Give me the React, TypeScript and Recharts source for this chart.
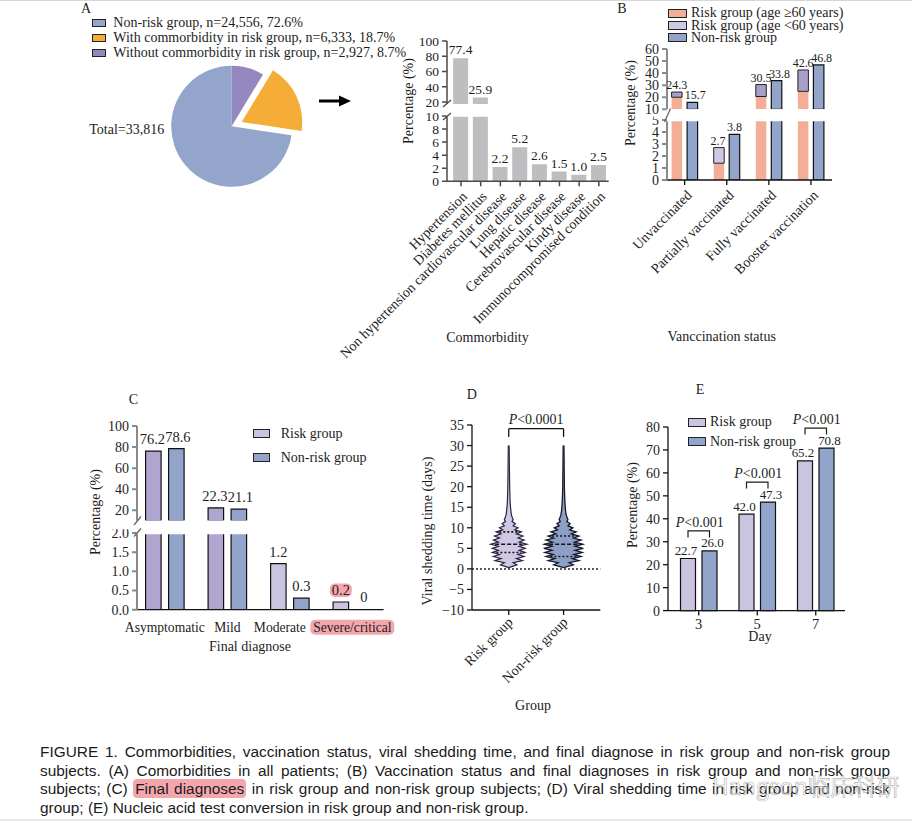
import React from 'react';
import {
  BarChart, Bar, XAxis, YAxis, PieChart, Pie, Cell, ComposedChart, Area, ReferenceLine, LabelList,
} from 'recharts';

const SERIF = '"Liberation Serif", "Times New Roman", Times, serif';
const SANS = '"Liberation Sans", Arial, sans-serif';
const INK = '#1d1d1d';
const HIGHLIGHT = '#F4A6AD';

// ---------- A: cohort split + comorbidities
const pieLabels = ['Without commorbidity in risk group', 'With commorbidity in risk group', 'Non-risk group'];
const pieCounts = [2927, 6333, 24556];
const piePercents = [8.7, 18.7, 72.6];
const pieTotal = 33816;
const pieColors = ['#9587BF', '#F6AD38', '#93A5CB'];

const comorbidities = [
  'Hypertension', 'Diabetes mellitus', 'Non hypertension cardiovascular disease', 'Lung disease',
  'Hepatic disease', 'Cerebrovascular disease', 'Kindy disease', 'Immunocompromised condition',
];
const comorbidityPct = [77.4, 25.9, 2.2, 5.2, 2.6, 1.5, 1.0, 2.5];

// ---------- B: vaccination status
const vaccStatus = ['Unvaccinated', 'Partially vaccinated', 'Fully vaccinated', 'Booster vaccination'];
const riskTotalPct = [24.3, 2.7, 30.5, 42.6];
const riskOldPct = [20.0, 1.4, 20.6, 24.9];
const nonRiskVaccPct = [15.7, 3.8, 33.8, 46.8];
const youngShade = ['#AA9ECB', '#CFC8E3', '#AA9ECB', '#AA9ECB'];

// ---------- C: final diagnose
const diagnoses = ['Asymptomatic', 'Mild', 'Moderate', 'Severe/critical'];
const riskDiagPct = [76.2, 22.3, 1.2, 0.2];
const nonRiskDiagPct = [78.6, 21.1, 0.3, 0];
const riskDiagShade = ['#AFA5CF', '#AFA5CF', '#CBC4E1', '#CBC4E1'];
const highlightedDiagnosis = 'Severe/critical';
const tickNudge: Record<string, number> = { Moderate: -10 };

// ---------- D: viral shedding time (violin half-widths)
const groups = ['Risk group', 'Non-risk group'];
const shedDays = [0.3, 1, 1.5, 2, 2.5, 3, 3.5, 4, 4.5, 5, 5.5, 6, 6.5, 7, 7.5, 8, 8.5, 9, 9.5, 10, 10.5, 11, 11.5, 12, 13, 14, 15, 16, 18, 20, 25, 30];
const riskDensity = [0, 0.15, 0.08, 0.25, 0.14, 0.28, 0.17, 0.3, 0.19, 0.3, 0.19, 0.33, 0.19, 0.28, 0.17, 0.26, 0.14, 0.23, 0.11, 0.17, 0.08, 0.12, 0.06, 0.08, 0.05, 0.04, 0.033, 0.026, 0.021, 0.017, 0.012, 0.007];
const nonRiskDensity = [0, 0.18, 0.1, 0.28, 0.16, 0.32, 0.19, 0.34, 0.21, 0.36, 0.21, 0.35, 0.2, 0.32, 0.18, 0.28, 0.14, 0.23, 0.11, 0.17, 0.08, 0.12, 0.06, 0.08, 0.05, 0.038, 0.031, 0.026, 0.019, 0.015, 0.011, 0.007];
const riskQuartiles = [4, 6, 9];
const nonRiskQuartiles = [3, 6, 8];
const shedTicks = [-10, -5, 0, 5, 10, 15, 20, 25, 30, 35];

// ---------- E: nucleic acid conversion
const days = ['3', '5', '7'];
const riskConvPct = [22.7, 42.0, 65.2];
const nonRiskConvPct = [26.0, 47.3, 70.8];

// ---------- tables for the library
const above = (v: number, lo: number) => (v >= lo ? v : null);
const pieData = pieLabels.map((name, i) => ({ name, n: pieCounts[i] }));
const comorbidData = comorbidities.map((name, i) => ({ name, pct: comorbidityPct[i] }));
const comorbidTop = comorbidities.map((name, i) => ({ name, pct: above(comorbidityPct[i], 17) }));
const vaccData = vaccStatus.map((name, i) => ({
  name, old: riskOldPct[i], young: +(riskTotalPct[i] - riskOldPct[i]).toFixed(1), total: riskTotalPct[i], nonRisk: nonRiskVaccPct[i],
}));
const vaccTop = vaccData.map((d) => (d.total >= 10 ? { ...d, nonRisk: above(d.nonRisk, 10) } : { name: d.name, old: null, young: null, total: null, nonRisk: above(d.nonRisk, 10) }));
const diagData = diagnoses.map((name, i) => ({ name, risk: riskDiagPct[i], nonRisk: nonRiskDiagPct[i] }));
const diagTop = diagnoses.map((name, i) => ({ name, risk: above(riskDiagPct[i], 10), nonRisk: above(nonRiskDiagPct[i], 10) }));
const violinData = shedDays.map((day, i) => ({
  day, risk: [0 - riskDensity[i], 0 + riskDensity[i]], nonRisk: [1 - nonRiskDensity[i], 1 + nonRiskDensity[i]],
}));
const convData = days.map((name, i) => ({ name, risk: riskConvPct[i], nonRisk: nonRiskConvPct[i] }));

// ---------- layout helpers
type Plot = { x: number; y: number; w: number; h: number };
const M = { top: 40, right: 30, bottom: 10, left: 10 };
const YW = 40;
// clip: 'below' hides anything under the plot (top half of a broken axis), 'above' hides anything over it
function frame(p: Plot, xH = 0, extraLeft = 0, clip: 'below' | 'above' | null = null) {
  const margin = { ...M, left: M.left + extraLeft };
  const width = margin.left + YW + p.w + M.right;
  const height = M.top + p.h + xH + M.bottom;
  const pl = margin.left + YW;
  const pt = M.top;
  const pb = M.top + p.h;
  let clipPath: string | undefined;
  if (clip === 'below') clipPath = `polygon(0px 0px, ${width}px 0px, ${width}px ${pb}px, ${pl}px ${pb}px, ${pl}px ${height}px, 0px ${height}px)`;
  if (clip === 'above') clipPath = `polygon(0px ${pt - 4}px, ${pl}px ${pt - 4}px, ${pl}px ${pt + 1}px, ${width}px ${pt + 1}px, ${width}px ${height}px, 0px ${height}px)`;
  return {
    box: { position: 'absolute', left: p.x - margin.left - YW, top: p.y - M.top, clipPath } as React.CSSProperties,
    dims: { width, height, margin },
  };
}

const A_TOP = { x: 446.7, y: 40.7, w: 161.7, h: 63.3 };
const A_BOT = { x: 446.7, y: 115.7, w: 161.7, h: 65.3 };
const B_TOP = { x: 666.7, y: 49, w: 165, h: 60.3 };
const B_BOT = { x: 666.7, y: 120.3, w: 165, h: 60 };
const C_TOP = { x: 136.7, y: 425.7, w: 246.6, h: 94.8 };
const C_BOT = { x: 136.7, y: 533.3, w: 246.6, h: 76.7 };
const D_PLOT = { x: 471.7, y: 425, w: 128.3, h: 185 };
const E_PLOT = { x: 668.3, y: 426.7, w: 177, h: 183.6 };

const axisDark = { stroke: '#4a4a4a', strokeWidth: 1.5 };
const axisGray = { stroke: '#8a8a8a', strokeWidth: 2 };
const axisBlack = { stroke: '#111', strokeWidth: 1.3 };
const tickFont = (size = 14) => ({ fontFamily: SERIF, fontSize: size, fill: INK });

const fmt = (v: number) => (v === 0 ? '0' : v.toFixed(1));

function rectOf(p: any) {
  const vb = p.viewBox && p.viewBox.width != null ? p.viewBox : p;
  const x = Number(vb.x), y = Number(vb.y), w = Number(vb.width), h = Number(vb.height);
  return { x, w, top: Math.min(y, y + h) };
}

function topLabel(lo: number, hi: number, lift: number, size = 14, dx = 0) {
  return (p: any) => {
    if (p.value == null) return null;
    const v = Number(p.value);
    if (!(v >= lo && v <= hi)) return null;
    const r = rectOf(p);
    const cx = r.x + r.w / 2 + dx;
    return (
      <text key={`l${p.index}`} x={cx} y={r.top - lift} textAnchor="middle" fontFamily={SERIF} fontSize={size} fill={INK}>{fmt(v)}</text>
    );
  };
}

const highlightMark = (lift: number) => (p: any) => {
  if (p.value !== highlightedDiagnosis) return null;
  const r = rectOf(p);
  const cx = r.x + r.w / 2;
  const y = r.top - lift;
  return <rect key={`h${p.index}`} x={cx - 11} y={y - 11.5} width={22} height={13.5} rx={5} fill={HIGHLIGHT} />;
};

const slantTick = (labels: string[] | null, size: number, dx: number, dy: number) => (p: any) => {
  const v = p.payload?.value;
  const text = labels ? labels[v] : v;
  return (
    <g transform={`translate(${p.x + dx},${p.y + dy})`}>
      <text textAnchor="end" transform="rotate(-45)" fontFamily={SERIF} fontSize={size} fill={INK}>{text}</text>
    </g>
  );
};

const diagTick = (p: any) => {
  const v = p.payload?.value;
  const hl = v === highlightedDiagnosis;
  const x = p.x + (tickNudge[v] || 0);
  return (
    <g>
      {hl ? <rect x={x - 42} y={p.y + 2} width={84} height={15} rx={5} fill={HIGHLIGHT} /> : null}
      <text x={x} y={p.y + 14} textAnchor="middle" fontFamily={SERIF} fontSize={13.6} fill={INK}>{v}</text>
    </g>
  );
};

const E_GAP = 6.5;
const convBracket = (p: any) => {
  const r = rectOf(p);
  const right = r.x + r.w / 2;
  const left = right - r.w - E_GAP;
  const top = r.top - 20;
  return (
    <g key={`b${p.index}`}>
      <path d={`M${left},${top + 6.5} V${top} H${right} V${top + 6.5}`} stroke={INK} strokeWidth={1.2} fill="none" />
      <text x={(left + right) / 2 + 1} y={top - 4} textAnchor="middle" fontFamily={SERIF} fontSize={14} fill={INK}>
        <tspan fontStyle="italic">P</tspan>{'<0.001'}
      </text>
    </g>
  );
};

const pLabel = (text: string) => (p: any) => {
  const vb = p.viewBox || {};
  return (
    <text x={Number(vb.x) + Number(vb.width || 0) / 2} y={Number(vb.y) - 5} textAnchor="middle" fontFamily={SERIF} fontSize={14} fill={INK}>
      <tspan fontStyle="italic">P</tspan>{text}
    </text>
  );
};

function Txt({ x, y, size = 14, anchor = 'middle', rotate = 0, family = SERIF, children }: any) {
  const tx = anchor === 'middle' ? '-50%' : anchor === 'end' ? '-100%' : '0';
  return (
    <div style={{
      position: 'absolute', left: x, top: y, fontFamily: family, fontSize: size, lineHeight: 1, whiteSpace: 'nowrap', color: INK,
      transform: `translate(${tx}, -50%)${rotate ? ` rotate(${rotate}deg)` : ''}`,
    }}>{children}</div>
  );
}

function Swatch({ x, y, w, h, color, textX, label, size = 14 }: any) {
  return (
    <>
      <div style={{ position: 'absolute', left: x, top: y - h / 2, width: w, height: h, background: color, border: '1px solid #222', boxSizing: 'border-box' }} />
      <Txt x={textX} y={y} size={size} anchor="start">{label}</Txt>
    </>
  );
}

function quartileLines(center: number, quartiles: number[], density: number[]) {
  return quartiles.map((q, k) => {
    const hw = density[shedDays.indexOf(q)] * 0.75;
    return (
      <ReferenceLine key={`q${center}-${k}`} segment={[{ x: center - hw, y: q }, { x: center + hw, y: q }]}
        stroke="#141414" strokeWidth={1.6} strokeDasharray={k === 1 ? '4 2' : '2 2'} />
    );
  });
}

const captionLine: React.CSSProperties = { textAlign: 'justify', textAlignLast: 'justify', whiteSpace: 'nowrap' };

export default function App() {
  const fAT = frame(A_TOP, 0, 0, 'below');
  const fAB = frame(A_BOT, 180, 110, 'above');
  const fBT = frame(B_TOP, 0, 0, 'below');
  const fBB = frame(B_BOT, 150, 0, 'above');
  const fCT = frame(C_TOP, 0, 0, 'below');
  const fCB = frame(C_BOT, 30, 0, 'above');
  const fD = frame(D_PLOT, 100);
  const fE = frame(E_PLOT, 30);
  const legendOrder = [2, 1, 0];

  return (
    <div style={{ position: 'absolute', left: 0, top: 0, width: 912, height: 823, background: '#fff', overflow: 'hidden', fontFamily: SERIF }}>
      <div style={{ position: 'absolute', left: 0, top: 0, width: 912, height: 1, background: '#d6d6d6' }} />
      <div style={{ position: 'absolute', left: 0, top: 819, width: 912, height: 2, background: '#e2efdc' }} />

      {/* ---------- A ---------- */}
      <Txt x={86} y={9}>A</Txt>
      {legendOrder.map((i, k) => (
        <Swatch key={i} x={92.3} y={22.7 + k * 15} w={13.3} h={8} color={pieColors[i]} textX={113.3}
          label={`${pieLabels[i]}, n=${pieCounts[i].toLocaleString('en-US')}, ${piePercents[i]}%`} />
      ))}
      <Txt x={89.3} y={130} anchor="start">{`Total=${pieTotal.toLocaleString('en-US')}`}</Txt>
      <div style={{ position: 'absolute', left: 150, top: 45 }}>
        <PieChart width={170} height={170} margin={{ top: 0, right: 0, bottom: 0, left: 0 }}>
          <Pie data={pieData} dataKey="n" cx={81.7} cy={81.3} outerRadius={60.5} startAngle={90} endAngle={-270} stroke="none" isAnimationActive={false}>
            {pieData.map((_, i) => <Cell key={i} fill={i === 1 ? 'transparent' : pieColors[i]} />)}
          </Pie>
          <Pie data={pieData} dataKey="n" cx={91.7} cy={77} outerRadius={60.5} startAngle={90} endAngle={-270} stroke="none" isAnimationActive={false}>
            {pieData.map((_, i) => <Cell key={i} fill={i === 1 ? pieColors[i] : 'transparent'} />)}
          </Pie>
        </PieChart>
      </div>

      <div style={fAT.box}>
        <BarChart data={comorbidTop} {...fAT.dims}>
          <XAxis dataKey="name" hide padding={{ left: 4.15, right: 0 }} />
          <YAxis type="number" domain={[17, 100]} ticks={[20, 40, 60, 80, 100]} allowDataOverflow interval={0} width={YW}
            tickSize={5} tickMargin={3} tick={tickFont(13.5)} axisLine={axisDark} tickLine={axisDark} />
          <Bar dataKey="pct" fill="#BEBEC0" barSize={15} isAnimationActive={false}>
            <LabelList dataKey="pct" content={topLabel(17, 100, 4, 13.5)} />
          </Bar>
        </BarChart>
      </div>
      <div style={fAB.box}>
        <BarChart data={comorbidData} {...fAB.dims}>
          <XAxis dataKey="name" interval={0} height={180} padding={{ left: 4.15, right: 0 }} tickSize={5} tickMargin={3}
            axisLine={axisDark} tickLine={axisDark} tick={slantTick(null, 14, 7, 8)} />
          <YAxis type="number" domain={[0, 10]} ticks={[0, 2, 4, 6, 8, 10]} allowDataOverflow interval={0} width={YW}
            tickSize={5} tickMargin={3} tick={tickFont(13.5)} axisLine={axisDark} tickLine={axisDark} />
          <Bar dataKey="pct" fill="#BEBEC0" barSize={15} isAnimationActive={false}>
            <LabelList dataKey="pct" content={topLabel(0, 10, 4, 13.5)} />
          </Bar>
        </BarChart>
      </div>
      <Txt x={409} y={101} rotate={-90}>Percentage (%)</Txt>
      <Txt x={487.5} y={338}>Commorbidity</Txt>

      {/* ---------- B ---------- */}
      <Txt x={622} y={9}>B</Txt>
      <Swatch x={668.3} y={13.3} w={19} h={9} color="#F4AE95" textX={691} label="Risk group (age ≥60 years)" />
      <Swatch x={668.3} y={25.5} w={19} h={9} color="#CFC8E3" textX={691} label="Risk group (age <60 years)" />
      <Swatch x={668.3} y={37.7} w={19} h={9} color="#93A4CB" textX={691} label="Non-risk group" />
      <div style={fBT.box}>
        <BarChart data={vaccTop} {...fBT.dims} barGap={5}>
          <XAxis dataKey="name" hide padding={{ left: -3.4, right: 0 }} />
          <YAxis type="number" domain={[10, 60]} ticks={[10, 20, 30, 40, 50, 60]} allowDataOverflow interval={0} width={YW}
            tickSize={5} tickMargin={3} tick={tickFont(14)} axisLine={axisGray} tickLine={axisGray} />
          <Bar dataKey="old" stackId="r" fill="#F4AE95" barSize={10.5} isAnimationActive={false} />
          <Bar dataKey="young" stackId="r" stroke="#222" strokeWidth={1} barSize={10.5} isAnimationActive={false}>
            {vaccTop.map((_, i) => <Cell key={i} fill={youngShade[i]} />)}
            <LabelList dataKey="total" content={topLabel(10, 60, 3, 12, 0)} />
          </Bar>
          <Bar dataKey="nonRisk" fill="#93A4CB" stroke="#111" strokeWidth={1.2} barSize={10.5} isAnimationActive={false}>
            <LabelList dataKey="nonRisk" content={topLabel(10, 60, 3, 12, 3)} />
          </Bar>
        </BarChart>
      </div>
      <div style={fBB.box}>
        <BarChart data={vaccData} {...fBB.dims} barGap={5}>
          <XAxis dataKey="name" interval={0} height={150} padding={{ left: -3.4, right: 0 }} tickSize={5} tickMargin={3}
            axisLine={axisBlack} tickLine={axisBlack} tick={slantTick(null, 14, 8, 8)} />
          <YAxis type="number" domain={[0, 5]} ticks={[0, 1, 2, 3, 4, 5]} allowDataOverflow interval={0} width={YW}
            tickSize={5} tickMargin={3} tick={tickFont(14)} axisLine={axisGray} tickLine={axisGray} />
          <Bar dataKey="old" stackId="r" fill="#F4AE95" barSize={10.5} isAnimationActive={false} />
          <Bar dataKey="young" stackId="r" stroke="#222" strokeWidth={1} barSize={10.5} isAnimationActive={false}>
            {vaccData.map((_, i) => <Cell key={i} fill={youngShade[i]} />)}
            <LabelList dataKey="total" content={topLabel(0, 5, 3, 12, -1)} />
          </Bar>
          <Bar dataKey="nonRisk" fill="#93A4CB" stroke="#111" strokeWidth={1.2} barSize={10.5} isAnimationActive={false}>
            <LabelList dataKey="nonRisk" content={topLabel(0, 5, 3, 12)} />
          </Bar>
        </BarChart>
      </div>
      <Txt x={631} y={103} rotate={-90}>Percentage (%)</Txt>
      <Txt x={721.7} y={337.3}>Vanccination status</Txt>

      {/* ---------- C ---------- */}
      <Txt x={133.3} y={400}>C</Txt>
      <Swatch x={253.3} y={433.8} w={17} h={9} color="#CBC4E1" textX={280.7} label="Risk group" />
      <Swatch x={253.3} y={457.5} w={17} h={9} color="#93A4CB" textX={280.7} label="Non-risk group" />
      <div style={fCT.box}>
        <BarChart data={diagTop} {...fCT.dims} barGap={7.5}>
          <XAxis dataKey="name" hide padding={{ left: -3.4, right: 0 }} />
          <YAxis type="number" domain={[10, 100]} ticks={[20, 40, 60, 80, 100]} allowDataOverflow interval={0} width={YW}
            tickSize={5} tickMargin={3} tick={tickFont(14)} axisLine={axisGray} tickLine={axisGray} />
          <Bar dataKey="risk" stroke="#111" strokeWidth={1.2} barSize={15.5} isAnimationActive={false}>
            {diagTop.map((_, i) => <Cell key={i} fill={riskDiagShade[i]} />)}
            <LabelList dataKey="risk" content={topLabel(10, 100, 7, 14.5, -1)} />
          </Bar>
          <Bar dataKey="nonRisk" fill="#93A4CB" stroke="#111" strokeWidth={1.2} barSize={15.5} isAnimationActive={false}>
            <LabelList dataKey="nonRisk" content={topLabel(10, 100, 7, 14.5, 1.5)} />
          </Bar>
        </BarChart>
      </div>
      <div style={fCB.box}>
        <BarChart data={diagData} {...fCB.dims} barGap={7.5}>
          <XAxis dataKey="name" interval={0} height={30} padding={{ left: -3.4, right: 0 }} tickLine={false}
            axisLine={axisBlack} tick={diagTick} />
          <YAxis type="number" domain={[0, 2]} ticks={[0, 0.5, 1, 1.5, 2]} allowDataOverflow interval={0} width={YW}
            tickFormatter={(v: number) => v.toFixed(1)} tickSize={5} tickMargin={3} tick={tickFont(14)} axisLine={axisGray} tickLine={axisGray} />
          <Bar dataKey="risk" stroke="#111" strokeWidth={1.2} barSize={15.5} isAnimationActive={false}>
            {diagData.map((_, i) => <Cell key={i} fill={riskDiagShade[i]} />)}
            <LabelList dataKey="name" content={highlightMark(7)} />
            <LabelList dataKey="risk" content={topLabel(0, 2, 7, 14.5)} />
          </Bar>
          <Bar dataKey="nonRisk" fill="#93A4CB" stroke="#111" strokeWidth={1.2} barSize={15.5} minPointSize={0.5} isAnimationActive={false}>
            {diagData.map((d, i) => <Cell key={i} fill={d.nonRisk === 0 ? 'transparent' : '#93A4CB'} stroke={d.nonRisk === 0 ? 'none' : '#111'} />)}
            <LabelList dataKey="nonRisk" content={topLabel(0, 2, 7, 14.5)} />
          </Bar>
        </BarChart>
      </div>
      <Txt x={96} y={511.7} rotate={-90}>Percentage (%)</Txt>
      <Txt x={250} y={646.7}>Final diagnose</Txt>

      {/* ---------- D ---------- */}
      <Txt x={471.7} y={395}>D</Txt>
      <div style={fD.box}>
        <ComposedChart layout="vertical" data={violinData} {...fD.dims}>
          <XAxis type="number" domain={[-0.67, 1.67]} ticks={[0, 1]} allowDataOverflow interval={0} height={100}
            tickSize={5} tickMargin={3} axisLine={axisBlack} tickLine={axisBlack} tick={slantTick(groups, 14, 5, 5)} />
          <YAxis type="number" dataKey="day" domain={[-10, 35]} ticks={shedTicks} reversed allowDataOverflow interval={0} width={YW}
            tickFormatter={(v: number) => String(v).replace('-', '\u2212')} tickSize={5} tickMargin={3} tick={tickFont(14)}
            axisLine={axisBlack} tickLine={axisBlack} />
          <ReferenceLine y={0} stroke="#222" strokeWidth={1.5} strokeDasharray="2 2" />
          <Area dataKey="risk" type="linear" fill="#CFC7E3" fillOpacity={1} stroke="#2a2440" strokeWidth={1.2} dot={false} activeDot={false} isAnimationActive={false} />
          <Area dataKey="nonRisk" type="linear" fill="#8E9FC6" fillOpacity={1} stroke="#15172a" strokeWidth={1.3} dot={false} activeDot={false} isAnimationActive={false} />
          {quartileLines(0, riskQuartiles, riskDensity)}
          {quartileLines(1, nonRiskQuartiles, nonRiskDensity)}
          <ReferenceLine segment={[{ x: 0, y: 34.1 }, { x: 1, y: 34.1 }]} stroke="#111" strokeWidth={1.3} label={pLabel('<0.0001')} />
          <ReferenceLine segment={[{ x: 0, y: 34.1 }, { x: 0, y: 32.1 }]} stroke="#111" strokeWidth={1.3} />
          <ReferenceLine segment={[{ x: 1, y: 34.1 }, { x: 1, y: 32.1 }]} stroke="#111" strokeWidth={1.3} />
        </ComposedChart>
      </div>
      <Txt x={427.5} y={531.2} rotate={-90}>Viral shedding time (days)</Txt>
      <Txt x={533} y={706}>Group</Txt>

      {/* ---------- E ---------- */}
      <Txt x={700} y={390}>E</Txt>
      <Swatch x={688.3} y={422.2} w={17.7} h={9} color="#CBC4E1" textX={710} label="Risk group" />
      <Swatch x={688.3} y={441.7} w={17.7} h={9} color="#93A4CB" textX={710} label="Non-risk group" />
      <div style={fE.box}>
        <BarChart data={convData} {...fE.dims} barGap={E_GAP}>
          <XAxis dataKey="name" interval={0} height={30} padding={{ left: 1.5, right: 0 }} tickSize={5} tickMargin={3}
            axisLine={axisBlack} tickLine={axisBlack} tick={tickFont(14.5)} />
          <YAxis type="number" domain={[0, 80]} ticks={[0, 10, 20, 30, 40, 50, 60, 70, 80]} interval={0} width={YW}
            tickSize={5} tickMargin={3} tick={tickFont(14)} axisLine={axisBlack} tickLine={axisBlack} />
          <Bar dataKey="risk" fill="#CBC4E1" stroke="#111" strokeWidth={1.2} barSize={15} isAnimationActive={false}>
            <LabelList dataKey="risk" content={topLabel(0, 100, 3.5, 13, -2)} />
          </Bar>
          <Bar dataKey="nonRisk" fill="#93A4CB" stroke="#111" strokeWidth={1.2} barSize={15} isAnimationActive={false}>
            <LabelList dataKey="nonRisk" content={topLabel(0, 100, 3.5, 13, 3)} />
            <LabelList dataKey="nonRisk" content={convBracket} />
          </Bar>
        </BarChart>
      </div>
      <Txt x={632.5} y={505} rotate={-90}>Percentage (%)</Txt>
      <Txt x={760} y={636.7}>Day</Txt>

      {/* decorations: arrow and axis breaks */}
      <svg width={912} height={823} style={{ position: 'absolute', left: 0, top: 0, pointerEvents: 'none' }}>
        <line x1={319} y1={101} x2={341} y2={101} stroke="#000" strokeWidth={3} />
        <path d="M339,95.5 L351,101 L339,106.5 Z" fill="#000" />
        <line x1={443} y1={107} x2={451} y2={100} stroke="#4a4a4a" strokeWidth={1.3} />
        <line x1={443} y1={120} x2={451} y2={113} stroke="#4a4a4a" strokeWidth={1.3} />
        <line x1={664.5} y1={122} x2={670.5} y2={108.5} stroke="#666" strokeWidth={1.3} />
        <line x1={134} y1={525} x2={141} y2={516.5} stroke="#666" strokeWidth={1.3} />
        <line x1={134} y1={536.5} x2={141} y2={528.5} stroke="#666" strokeWidth={1.3} />
      </svg>

      {/* caption */}
      <div style={{ position: 'absolute', left: 40, top: 743, width: 850, fontFamily: SANS, fontSize: 15.4, lineHeight: '18.6px', color: '#1a1a1a' }}>
        <div style={captionLine}>FIGURE 1. Commorbidities, vaccination status, viral shedding time, and final diagnose in risk group and non-risk group</div>
        <div style={captionLine}>subjects. (A) Comorbidities in all patients; (B) Vaccination status and final diagnoses in risk group and non-risk group</div>
        <div style={captionLine}>subjects; (C) <span style={{ background: HIGHLIGHT, borderRadius: 4, padding: '1px 2px' }}>Final diagnoses</span> in risk group and non-risk group subjects; (D) Viral shedding time in risk group and non-risk</div>
        <div style={{ whiteSpace: 'nowrap' }}>group; (E) Nucleic acid test conversion in risk group and non-risk group.</div>
      </div>
      <div style={{
        position: 'absolute', left: 712, top: 768, fontFamily: '"Noto Sans CJK SC", "Noto Sans", sans-serif', fontSize: 23,
        color: 'rgba(255,255,255,0.55)', WebkitTextStroke: '0.7px rgba(120,120,120,0.55)', whiteSpace: 'nowrap',
      }}>
        Hangson临床科研
      </div>
    </div>
  );
}
